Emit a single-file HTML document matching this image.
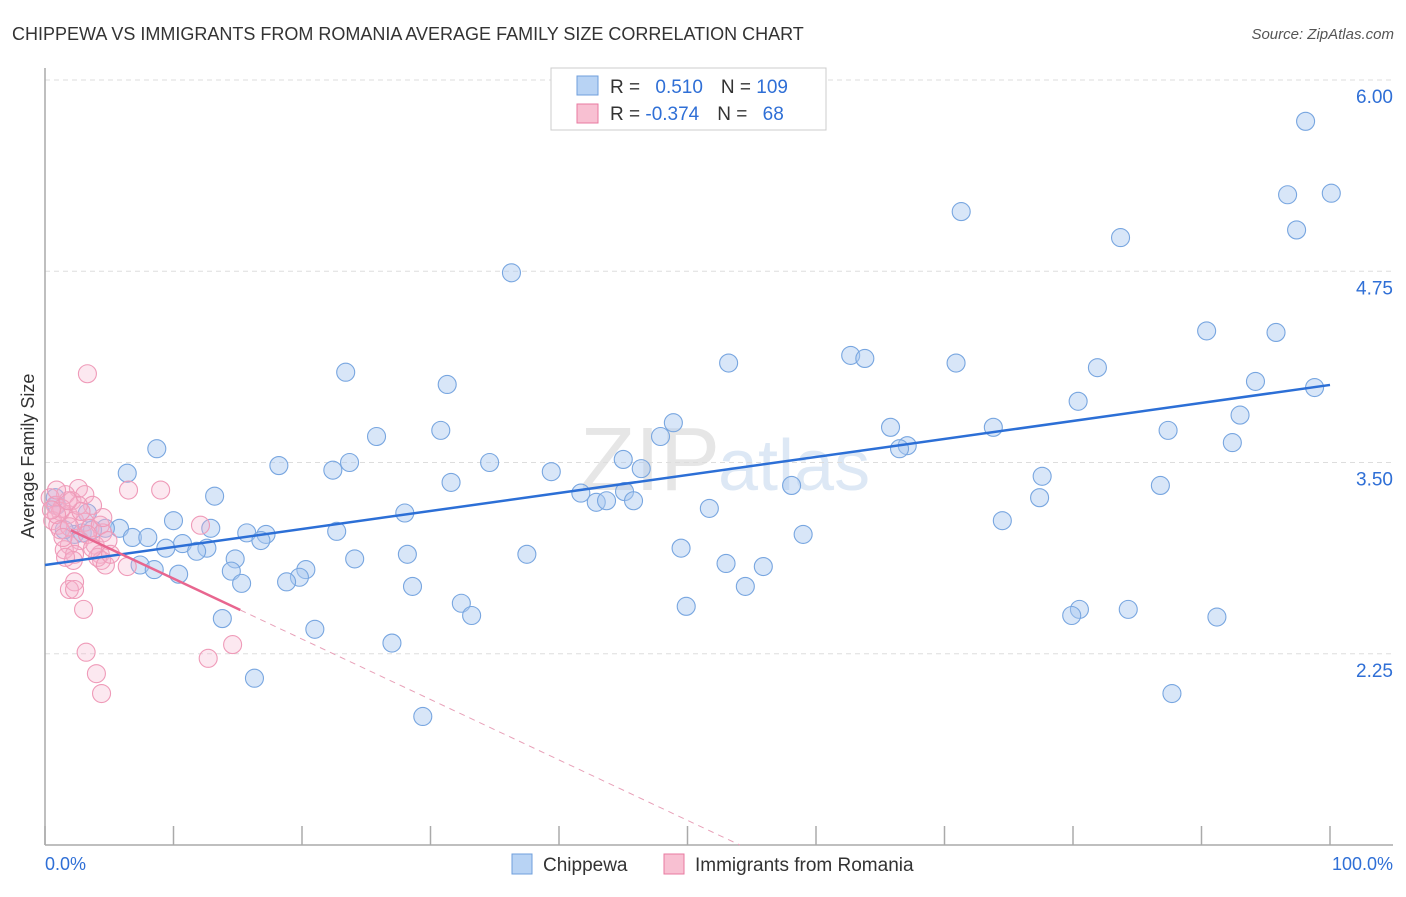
<!DOCTYPE html>
<html><head><meta charset="utf-8"><style>
body{margin:0;background:#fff;font-family:"Liberation Sans",sans-serif;}
svg text{font-family:"Liberation Sans",sans-serif;}
</style></head><body>
<svg id="c" width="1406" height="892" xmlns="http://www.w3.org/2000/svg">
<text x="12" y="40" font-size="18" fill="#333">CHIPPEWA VS IMMIGRANTS FROM ROMANIA AVERAGE FAMILY SIZE CORRELATION CHART</text>
<text x="1394" y="39" font-size="15" fill="#555" font-style="italic" text-anchor="end">Source: ZipAtlas.com</text>
<text x="720" y="490" font-size="90" fill="#e6e6e6" font-family="Liberation Serif" text-anchor="end">ZIP</text>
<text x="718" y="490" font-size="72" fill="#dde8f5">atlas</text>
<text transform="translate(34,456) rotate(-90)" font-size="18" fill="#333" text-anchor="middle">Average Family Size</text>
<g id="grid"></g><g id="pts"></g><g id="trend"></g>
<g>
<rect x="551" y="68" width="275" height="62" fill="#fff" stroke="#ccc"/>
<rect x="577" y="76" width="21" height="19" fill="#b8d3f4" stroke="#6f9fdc"/>
<rect x="577" y="104" width="21" height="19" fill="#f8c0d2" stroke="#e87aa0"/>
<text x="610" y="93" font-size="19" fill="#333">R = <tspan fill="#2f6fd6" dx="10">0.510</tspan><tspan fill="#333" dx="18">N = </tspan><tspan fill="#2f6fd6">109</tspan></text>
<text x="610" y="120" font-size="19" fill="#333">R = <tspan fill="#2f6fd6">-0.374</tspan><tspan fill="#333" dx="18">N = </tspan><tspan fill="#2f6fd6" dx="10">68</tspan></text>
</g>
<g>
<rect x="512" y="854" width="20" height="20" fill="#b8d3f4" stroke="#6f9fdc"/>
<text x="543" y="871" font-size="19" fill="#333">Chippewa</text>
<rect x="664" y="854" width="20" height="20" fill="#f8c0d2" stroke="#e87aa0"/>
<text x="695" y="871" font-size="19" fill="#333">Immigrants from Romania</text>
</g>
<text x="45" y="870" font-size="18" fill="#2f6fd6">0.0%</text>
<text x="1393" y="870" font-size="18" fill="#2f6fd6" text-anchor="end">100.0%</text>
</svg>
<script>
const yTicks=[6.00,4.75,3.50,2.25];
const yTickLabels=["6.00","4.75","3.50","2.25"];
const xTicks=[0,10,20,30,40,50,60,70,80,90,100];
const blueX=[98.1,96.7,100.1,97.4,71.3,83.7,36.3,90.4,95.8,62.7,63.8,53.2,70.9,81.9,23.4,31.3,94.2,98.8,80.4,48.9,65.8,47.9,93.0,25.8,30.8,73.8,87.4,92.4,67.1,66.5,8.7,45.0,18.2,34.6,23.7,22.4,46.4,6.4,39.4,77.6,31.6,58.1,86.8,41.7,45.1,13.2,77.4,42.9,43.7,45.8,51.7,28.0,3.3,10.0,74.5,22.7,5.8,4.7,6.8,15.7,17.2,12.9,2.3,8.0,16.8,59.0,10.7,12.6,9.4,11.8,49.5,37.5,28.2,14.8,24.1,7.4,8.5,53.0,55.9,20.3,10.4,14.5,19.8,18.8,15.3,28.6,54.5,32.4,49.9,33.2,80.5,79.9,84.3,91.2,13.8,21.0,27.0,16.3,87.7,29.4,2.9,3.7,1.5,0.9,0.8];
const blueY=[5.73,5.25,5.26,5.02,5.14,4.97,4.74,4.36,4.35,4.20,4.18,4.15,4.15,4.12,4.09,4.01,4.03,3.99,3.90,3.76,3.73,3.67,3.81,3.67,3.71,3.73,3.71,3.63,3.61,3.59,3.59,3.52,3.48,3.50,3.50,3.45,3.46,3.43,3.44,3.41,3.37,3.35,3.35,3.30,3.31,3.28,3.27,3.24,3.25,3.25,3.20,3.17,3.17,3.12,3.12,3.05,3.07,3.07,3.01,3.04,3.03,3.07,3.03,3.01,2.99,3.03,2.97,2.94,2.94,2.92,2.94,2.90,2.90,2.87,2.87,2.83,2.80,2.84,2.82,2.80,2.77,2.79,2.75,2.72,2.71,2.69,2.69,2.58,2.56,2.50,2.54,2.50,2.54,2.49,2.48,2.41,2.32,2.09,1.99,1.84,3.04,3.06,3.06,3.22,3.27];
const pinkX=[3.3,6.5,9.0,2.6,1.6,2.1,0.4,0.8,1.2,1.8,2.3,0.6,1.0,1.3,3.1,3.5,4.3,4.5,2.7,1.9,3.9,4.9,1.5,4.3,4.4,4.1,2.3,2.2,1.6,4.7,6.4,12.1,4.5,3.1,3.7,2.3,1.9,2.3,3.0,3.2,4.0,4.4,12.7,14.6,0.9,1.2,0.5,2.6,2.8,1.9,1.4,3.3,3.7,5.1,1.8,0.9];
const pinkY=[4.08,3.32,3.32,3.33,3.29,3.25,3.27,3.22,3.18,3.16,3.12,3.12,3.09,3.20,3.11,3.07,3.09,3.04,2.99,2.96,2.96,2.99,2.93,2.90,2.86,2.88,2.90,2.86,2.88,2.83,2.82,3.09,3.14,3.29,3.22,2.72,2.67,2.67,2.54,2.26,2.12,1.99,2.22,2.31,3.16,3.06,3.19,3.22,3.18,3.08,3.01,3.03,2.94,2.90,3.25,3.32];
const blueTrend=[2.830,0.01177];
const pinkTrend=[3.136,-0.0395];
const pinkSolidRange=[2,15.2];
const NS="http://www.w3.org/2000/svg";
const X=p=>45+p*12.85, Y=v=>80+(6-v)*153;
function mk(tag,attrs,parent){const e=document.createElementNS(NS,tag);for(const k in attrs)e.setAttribute(k,attrs[k]);parent.appendChild(e);return e;}
const grid=document.getElementById('grid');
yTicks.forEach((t,i)=>{
 const l=mk('line',{x1:45,x2:1393,y1:Y(t),y2:Y(t),stroke:'#ddd','stroke-dasharray':'5,4'},grid);
 
 
 const tx=mk('text',{x:1393,y:Y(t)+23,'font-size':19,fill:'#2f6fd6','text-anchor':'end'},grid);
 tx.textContent=yTickLabels[i];
 
 
});
let ax=mk('line',{x1:45,x2:45,y1:68,y2:845,stroke:'#aaa','stroke-width':1.5},grid);


ax=mk('line',{x1:45,x2:1393,y1:845,y2:845,stroke:'#aaa','stroke-width':1.5},grid);


xTicks.forEach(t=>{
 const l=mk('line',{x1:X(t),x2:X(t),y1:826,y2:845,stroke:'#aaa','stroke-width':1.5},grid);
 
 
});
const pts=document.getElementById('pts');
blueX.forEach((x,i)=>{
 const c=mk('circle',{cx:X(x),cy:Y(blueY[i]),r:9,fill:'rgba(168,200,240,0.45)',stroke:'#78a6e0','stroke-width':1.1},pts);
 
 
});
pinkX.forEach((x,i)=>{
 const c=mk('circle',{cx:X(x),cy:Y(pinkY[i]),r:9,fill:'rgba(246,180,204,0.3)',stroke:'#ef9ab8','stroke-width':1.1},pts);
 
 
});
const tr=document.getElementById('trend');
const bf=p=>blueTrend[0]+blueTrend[1]*p, pf=p=>pinkTrend[0]+pinkTrend[1]*p;
let l=mk('line',{x1:X(0),y1:Y(bf(0)),x2:X(100),y2:Y(bf(100)),stroke:'#2c6fd6','stroke-width':2.5},tr);


l=mk('line',{x1:X(pinkSolidRange[0]),y1:Y(pf(pinkSolidRange[0])),x2:X(pinkSolidRange[1]),y2:Y(pf(pinkSolidRange[1])),stroke:'#e8668f','stroke-width':2.5},tr);


const pEnd=(1-pinkTrend[0])/pinkTrend[1];
l=mk('line',{x1:X(pinkSolidRange[1]),y1:Y(pf(pinkSolidRange[1])),x2:X(pEnd),y2:Y(1),stroke:'#e8a0b8','stroke-width':1,'stroke-dasharray':'6,5'},tr);


</script>
</body></html>
